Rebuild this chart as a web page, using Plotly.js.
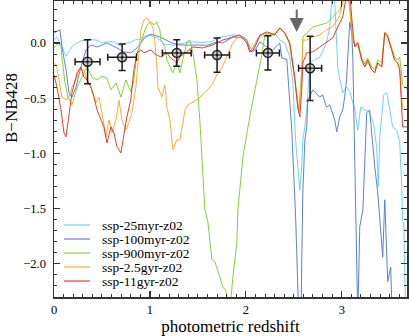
<!DOCTYPE html>
<html>
<head>
<meta charset="utf-8">
<script src="https://cdn.plot.ly/plotly-3.0.1.min.js"></script>
<style>
  html, body { margin: 0; padding: 0; background: #fff; }
  #graph { width: 409px; height: 336px; }
</style>
</head>
<body>
<div id="graph"></div>
<script>
// model names, in legend order
var models = ["ssp-25myr-z02", "ssp-100myr-z02", "ssp-900myr-z02", "ssp-2.5gyr-z02", "ssp-11gyr-z02"];
var colors = ["#5ccdff", "#4a72dc", "#78cc1e", "#ffa21c", "#e8261c"];

// ssp-25myr-z02
var z25myr = [0, 0.03, 0.08, 0.125, 0.14, 0.2, 0.28, 0.33, 0.40, 0.45, 0.5, 0.55, 0.625, 0.7, 0.75, 0.8, 0.85, 0.9, 0.95, 1.0,
  1.04, 1.08, 1.104, 1.15, 1.25, 1.35, 1.45, 1.55, 1.65, 1.70, 1.78, 1.86, 1.94, 2.0, 2.04, 2.07, 2.10, 2.15, 2.22, 2.30,
  2.354, 2.406, 2.458, 2.49, 2.52, 2.545, 2.5625, 2.58, 2.594, 2.615, 2.635, 2.667, 2.72, 2.77, 2.84, 2.875, 2.90, 2.92, 2.945, 2.958,
  2.98, 3.01, 3.05, 3.083, 3.135, 3.167, 3.198, 3.25, 3.29, 3.333, 3.365, 3.38, 3.396, 3.4375, 3.469, 3.5, 3.53, 3.573, 3.604, 3.625,
  3.635, 3.646, 3.656, 3.667];
var c25myr = [0.03, 0.05, -0.03, -0.12, -0.10, -0.02, 0.02, 0.025, 0.03, 0.025, 0.0, 0.01, 0.01, -0.03, 0.0, 0.005, 0.03, 0.03, 0.06, 0.07,
  0.06, 0.04, 0.02, -0.01, -0.02, 0.0, 0.01, 0.005, 0.01, 0.045, 0.06, 0.072, 0.07, 0.03, -0.04, -0.06, -0.03, 0.07, 0.055, 0.09,
  0.027, 0.0, -0.127, -0.36, -0.9, -1.15, -1.33, -1.15, -0.88, -0.76, -0.60, -0.18, -0.15, -0.13, 0.0, 0.145, 0.45, 0.5, 0.1, -0.22,
  -0.33, -0.45, -0.40, -0.44, -0.60, -0.79, -0.58, -0.61, -0.63, -0.74, -0.95, -1.3, -0.85, -0.47, -0.45, -0.60, -0.76, -0.79, -0.9, -1.3,
  -1.62, -1.63, -2.1, -2.5];

// ssp-100myr-z02
var z100myr = [0, 0.0625, 0.083, 0.125, 0.156, 0.1875, 0.229, 0.28, 0.333, 0.385, 0.448, 0.552, 0.656, 0.729, 0.80, 0.865, 0.95, 1.01, 1.104, 1.23,
  1.3125, 1.45, 1.52, 1.6, 1.698, 1.76, 1.865, 1.94, 2.01, 2.04, 2.07, 2.10, 2.146, 2.22, 2.28, 2.354, 2.375, 2.427, 2.479, 2.52,
  2.552, 2.575, 2.583, 2.594, 2.615, 2.635, 2.646, 2.698, 2.77, 2.80, 2.84, 2.875, 2.927, 2.948, 2.979, 3.01, 3.03, 3.05, 3.083, 3.104,
  3.115, 3.135, 3.156, 3.167, 3.1875, 3.22, 3.26, 3.29, 3.344, 3.375, 3.427, 3.448, 3.479, 3.51, 3.53, 3.7];
var c100myr = [0.09, 0.12, -0.036, -0.24, -0.45, -0.49, -0.40, -0.22, -0.063, -0.018, -0.036, 0.0, -0.045, -0.081, -0.09, -0.045, 0.05, 0.08, 0.054, 0.0,
  -0.018, -0.02, -0.018, -0.02, 0.009, 0.0, 0.055, 0.05, 0.03, -0.063, -0.081, -0.06, 0.009, -0.036, -0.063, 0.0, -0.136, -0.15, -0.79, -1.6,
  -2.5, -2.5, -1.96, -1.36, -0.88, -0.76, -0.516, -0.425, -0.49, -0.47, -0.58, -0.56, -0.70, -0.805, -0.67, -0.606, -0.49, -0.33, 0.19, 0.09,
  -0.127, -0.968, -1.87, -2.5, -1.665, -1.51, -0.633, -0.606, -1.12, -1.357, -1.94, -1.42, -2.16, -2.03, -2.6, -2.6];

// ssp-900myr-z02
var z900myr = [0, 0.042, 0.073, 0.083, 0.115, 0.146, 0.1875, 0.24, 0.3125, 0.344, 0.396, 0.448, 0.5, 0.552, 0.594, 0.646, 0.698, 0.75, 0.80, 0.833,
  0.865, 0.906, 0.9375, 0.969, 1.01, 1.04, 1.07, 1.104, 1.115, 1.156, 1.177, 1.208, 1.24, 1.26, 1.28, 1.3125, 1.344, 1.385, 1.417, 1.448,
  1.49, 1.52, 1.573, 1.604, 1.646, 1.677, 1.729, 1.76, 1.79, 1.8125, 1.833, 1.865, 1.906, 1.917, 1.97, 2.04, 2.09, 2.125, 2.167, 2.198,
  2.25, 2.30, 2.354, 2.406, 2.458, 2.51, 2.552, 2.583, 2.594, 2.635, 2.698, 2.77, 2.84, 2.906, 2.979, 3.03, 3.0625, 3.115, 3.135, 3.167,
  3.208, 3.24, 3.27, 3.3125, 3.344, 3.375, 3.417, 3.448, 3.479, 3.52, 3.55, 3.583, 3.604, 3.635, 3.6875];
var c900myr = [-0.045, 0.0, -0.036, -0.136, -0.36, -0.49, -0.56, -0.40, -0.27, -0.217, -0.31, -0.335, -0.30, -0.317, -0.425, -0.362, -0.49, -0.335, -0.44, -0.335,
  -0.09, 0.0, 0.09, 0.163, 0.19, 0.163, 0.19, 0.118, 0.027, -0.036, -0.154, -0.217, -0.27, -0.226, -0.154, -0.27, -0.154, 0.009, 0.027, -0.09,
  -0.335, -0.697, -1.51, -1.62, -1.96, -1.98, -2.12, -2.21, -2.24, -2.33, -2.42, -2.12, -1.81, -1.51, -1.03, -0.67, -0.425, -0.29, -0.109, 0.072,
  0.09, 0.08, 0.136, 0.09, 0.0, -0.317, -0.606, -0.244, 0.054, 0.09, 0.145, 0.163, 0.18, 0.235, 0.30, 0.42, 0.5, 0.027, -0.018, 0.01,
  -0.136, -0.19, -0.136, -0.217, -0.244, -0.154, -0.18, 0.10, 0.072, -0.045, -0.127, -0.154, -0.127, -0.38, -0.425];

// ssp-2.5gyr-z02
var z2p5gyr = [0, 0.031, 0.052, 0.083, 0.125, 0.156, 0.1875, 0.229, 0.26, 0.3125, 0.344, 0.396, 0.4375, 0.469, 0.5, 0.542, 0.573, 0.604, 0.646, 0.677,
  0.708, 0.75, 0.78, 0.8125, 0.854, 0.885, 0.906, 0.9375, 0.969, 1.0, 1.03, 1.05, 1.07, 1.083, 1.125, 1.156, 1.177, 1.208, 1.24, 1.28,
  1.3125, 1.344, 1.365, 1.396, 1.49, 1.573, 1.646, 1.698, 1.75, 1.80, 1.854, 1.906, 1.97, 2.01, 2.06, 2.125, 2.198, 2.30, 2.354, 2.406,
  2.458, 2.51, 2.552, 2.583, 2.594, 2.635, 2.698, 2.77, 2.84, 2.906, 2.979, 3.03, 3.0625, 3.115, 3.135, 3.167, 3.208, 3.24, 3.27, 3.3125,
  3.344, 3.375, 3.417, 3.448, 3.479, 3.52, 3.55, 3.583, 3.604, 3.635, 3.6875];
var c2p5gyr = [-0.181, -0.226, -0.335, -0.49, -0.516, -0.49, -0.40, -0.335, -0.244, -0.244, -0.335, -0.425, -0.543, -0.49, -0.633, -0.85, -0.697, -0.814, -0.697, -0.516,
  -0.697, -0.787, -0.724, -0.633, -0.40, -0.09, 0.118, 0.208, 0.226, 0.19, 0.145, 0.027, -0.181, -0.40, -0.49, -0.38, -0.58, -0.697, -0.968, -0.878,
  -0.878, -0.724, -0.606, -0.56, -0.516, -0.45, -0.38, -0.29, -0.226, -0.127, -0.018, 0.045, 0.06, 0.027, -0.063, 0.045, 0.09, 0.072, 0.136, 0.09,
  -0.018, -0.335, -0.633, -0.335, 0.027, 0.027, 0.054, 0.072, 0.118, 0.145, 0.25, 0.45, 0.5, 0.027, -0.018, -0.018, -0.154, -0.217, -0.172, -0.244,
  -0.27, -0.181, -0.217, 0.09, 0.054, -0.063, -0.154, -0.181, -0.244, -0.6, -0.6];

// ssp-11gyr-z02
var z11gyr = [0, 0.031, 0.073, 0.104, 0.125, 0.156, 0.1875, 0.24, 0.28, 0.3125, 0.344, 0.385, 0.417, 0.448, 0.49, 0.52, 0.552, 0.594, 0.625, 0.656,
  0.698, 0.729, 0.76, 0.80, 0.833, 0.865, 0.906, 0.9375, 0.969, 1.01, 1.04, 1.07, 1.115, 1.146, 1.177, 1.208, 1.24, 1.28, 1.3125, 1.385,
  1.448, 1.55, 1.656, 1.76, 1.865, 1.9375, 2.01, 2.04, 2.08, 2.146, 2.22, 2.30, 2.354, 2.406, 2.458, 2.51, 2.54, 2.5625, 2.583, 2.594,
  2.635, 2.698, 2.77, 2.84, 2.906, 2.958, 3.01, 3.0625, 3.083, 3.115, 3.135, 3.167, 3.208, 3.24, 3.27, 3.3125, 3.344, 3.375, 3.417, 3.448,
  3.479, 3.52, 3.55, 3.583, 3.604, 3.635, 3.6875];
var c11gyr = [-0.29, -0.40, -0.606, -0.814, -0.85, -0.633, -0.45, -0.27, -0.217, -0.31, -0.335, -0.40, -0.49, -0.606, -0.697, -0.76, -0.905, -0.76, -0.814, -0.94,
  -0.995, -0.814, -0.67, -0.516, -0.244, -0.09, -0.063, -0.09, -0.081, -0.063, -0.09, -0.109, -0.127, -0.109, -0.09, -0.127, -0.154, -0.181, -0.127, -0.081,
  -0.036, -0.045, -0.018, 0.027, 0.054, 0.072, 0.0, -0.081, -0.063, 0.072, 0.10, 0.072, 0.136, 0.09, 0.0, -0.31, -0.58, -0.67, -0.425, -0.181,
  -0.09, -0.081, -0.036, 0.009, 0.045, 0.145, 0.235, 0.5, 0.45, 0.118, -0.036, 0.0, -0.154, -0.217, -0.154, -0.244, -0.27, -0.181, -0.217, 0.09,
  0.054, -0.063, -0.154, -0.181, -0.244, -0.76, -0.76];

// measured points with errors
var zPts = [0.35, 0.71, 1.28, 1.70, 2.23, 2.67];
var cPts = [-0.17, -0.13, -0.09, -0.11, -0.09, -0.23];
var zErr = [0.13, 0.15, 0.15, 0.13, 0.12, 0.12];
var cErr = [0.20, 0.12, 0.12, 0.155, 0.155, 0.29];

// arrow position (redshift)
var zArrow = 2.53;

function drawGraph() {
    var data, layout, annotations, shapes, i;
    var curveZ = [z25myr, z100myr, z900myr, z2p5gyr, z11gyr];
    var curveC = [c25myr, c100myr, c900myr, c2p5gyr, c11gyr];

    data = [];
    for (i = 0; i < models.length; i++) {
        data.push({
            x: curveZ[i],
            y: curveC[i],
            type: 'scatter',
            mode: 'lines',
            name: models[i],
            line: {color: colors[i], width: 1},
            opacity: 0.9
        });
    }

    // the data points
    data.push({
        x: zPts, y: cPts,
        type: 'scatter', mode: 'markers',
        marker: {symbol: 'circle-dot', size: 9, color: 'rgba(140,140,140,0.45)', line: {color: '#1a1a1a', width: 1.5}},
        error_x: {type: 'data', array: zErr, color: '#1a1a1a', thickness: 1.5, width: 3.5},
        error_y: {type: 'data', array: cErr, color: '#1a1a1a', thickness: 1.5, width: 3.5}
    });

    // hand-made legend so rows sit close together
    annotations = [];
    shapes = [];
    var plotH = 296, plotW = 353;
    for (i = 0; i < models.length; i++) {
        var yy = (297 - (225 + 14 * i)) / plotH;
        shapes.push({type: 'line', xref: 'paper', yref: 'paper',
            x0: 10 / plotW, x1: 36 / plotW, y0: yy, y1: yy,
            line: {color: colors[i], width: 1.5}, opacity: 0.7});
        annotations.push({xref: 'paper', yref: 'paper', x: 46 / plotW, y: yy,
            xanchor: 'left', yanchor: 'middle', showarrow: false,
            text: models[i], font: {size: 13.5, color: '#000'}});
    }

    // y title placed like the original
    annotations.push({xref: 'paper', yref: 'paper', x: -43 / plotW, y: (297 - 108) / plotH,
        xanchor: 'center', yanchor: 'middle', showarrow: false, textangle: -90,
        text: 'B\u2212NB428', font: {size: 17, color: '#000'}});

    // grey arrow
    annotations.push({x: zArrow, y: 0.10, ax: 0, ay: -24, text: '', showarrow: true,
        arrowhead: 2, arrowsize: 1.4, arrowwidth: 2, arrowcolor: '#666', standoff: 0});

    layout = {
        width: 409,
        height: 336,
        margin: {l: 54, r: 2, t: 1, b: 39},
        paper_bgcolor: '#fff',
        plot_bgcolor: '#fff',
        font: {family: 'Liberation Serif, serif', size: 12, color: '#000'},
        showlegend: false,
        xaxis: {
            range: [0, 3.68],
            tick0: 0, dtick: 1,
            ticks: 'inside', ticklen: 6, tickwidth: 1.2, tickcolor: '#333',
            showline: true, linecolor: '#333', linewidth: 1.5, mirror: 'allticks',
            showgrid: false, zeroline: false,
            minor: {dtick: 0.1, ticks: 'inside', ticklen: 3, tickwidth: 1, tickcolor: '#333', showgrid: false},
            tickfont: {size: 12.5},
            title: {text: 'photometric redshift', font: {size: 17}, standoff: 4}
        },
        yaxis: {
            range: [-2.30, 0.38],
            tick0: 0, dtick: 0.5, tickformat: '.1f',
            ticks: 'inside', ticklen: 6, tickwidth: 1.2, tickcolor: '#333',
            showline: true, linecolor: '#333', linewidth: 1.5, mirror: 'allticks',
            showgrid: false, zeroline: false,
            minor: {dtick: 0.1, ticks: 'inside', ticklen: 3, tickwidth: 1, tickcolor: '#333', showgrid: false},
            tickfont: {size: 12.5},
            ticklabelstandoff: 4
        },
        annotations: annotations,
        shapes: shapes
    };

    Plotly.newPlot("graph", data, layout, {displayModeBar: false, staticPlot: true});
}

drawGraph();
</script>
</body>
</html>
